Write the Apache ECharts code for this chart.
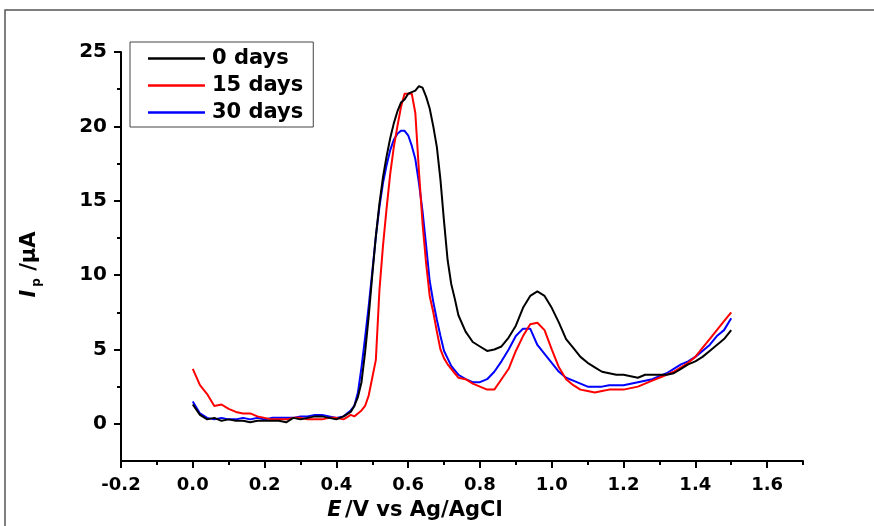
<!DOCTYPE html>
<html>
<head>
<meta charset="utf-8">
<script src="https://cdn.jsdelivr.net/npm/echarts@6/dist/echarts.min.js"></script>
<style>html,body{margin:0;padding:0;background:#fff;}#c{width:874px;height:526px;}</style>
</head>
<body>
<div id="c"></div>
<script>
// Potential (V vs Ag/AgCl)
const potentials = [
  0.00,0.02,0.04,0.06,0.08,0.10,0.12,0.14,0.16,0.18,0.20,0.22,0.24,0.26,0.28,0.30,0.32,0.34,0.36,0.38,0.40,0.42,0.44,
  0.45,0.46,0.47,0.48,0.49,0.50,0.51,0.52,0.53,0.54,0.55,0.56,0.57,0.58,0.59,0.60,0.61,0.62,0.63,0.64,0.65,0.66,0.67,0.68,0.69,0.70,0.71,0.72,0.73,0.74,
  0.76,0.78,0.80,0.82,0.84,0.86,0.88,0.90,0.92,0.94,0.96,0.98,1.00,1.02,1.04,1.06,1.08,1.10,1.12,1.14,1.16,1.18,1.20,1.22,1.24,1.26,1.28,1.30,1.32,1.34,1.36,1.38,1.40,1.42,1.44,1.46,1.48,1.50
];
// Current (µA)
const days0 = [
  1.3,0.6,0.3,0.4,0.2,0.3,0.2,0.2,0.1,0.2,0.2,0.2,0.2,0.1,0.4,0.3,0.4,0.5,0.5,0.4,0.3,0.5,0.8,
  1.2,1.8,2.8,4.8,7.2,10.0,12.6,14.8,16.6,18.0,19.2,20.2,21.0,21.6,21.8,22.2,22.3,22.4,22.7,22.6,22.0,21.2,20.0,18.6,16.4,13.6,11.0,9.4,8.4,7.3,
  6.2,5.5,5.2,4.9,5.0,5.2,5.8,6.6,7.8,8.6,8.9,8.6,7.8,6.8,5.7,5.1,4.5,4.1,3.8,3.5,3.4,3.3,3.3,3.2,3.1,3.3,3.3,3.3,3.3,3.4,3.7,4.0,4.2,4.5,4.9,5.3,5.7,6.3
];
const days15 = [
  3.7,2.6,2.0,1.2,1.3,1.0,0.8,0.7,0.7,0.5,0.4,0.3,0.3,0.3,0.4,0.4,0.3,0.3,0.3,0.4,0.4,0.3,0.6,
  0.5,0.7,0.9,1.2,1.9,3.1,4.3,9.0,12.0,14.5,16.8,18.6,20.0,21.3,22.2,22.2,22.2,20.9,17.0,13.5,10.8,8.6,7.5,6.2,5.0,4.4,4.0,3.7,3.4,3.1,
  3.0,2.7,2.5,2.3,2.3,3.0,3.7,4.9,5.9,6.7,6.8,6.3,5.0,3.8,3.0,2.6,2.3,2.2,2.1,2.2,2.3,2.3,2.3,2.4,2.5,2.7,2.9,3.1,3.3,3.5,3.8,4.1,4.5,5.1,5.7,6.3,6.9,7.5
];
const days30 = [
  1.5,0.7,0.4,0.3,0.4,0.3,0.3,0.4,0.3,0.4,0.3,0.4,0.4,0.4,0.4,0.5,0.5,0.6,0.6,0.5,0.4,0.5,0.9,
  1.2,2.1,3.8,5.8,7.9,10.2,12.6,14.6,16.2,17.4,18.4,19.1,19.5,19.7,19.7,19.4,18.7,17.8,16.2,14.3,12.0,9.6,8.2,7.0,5.9,4.9,4.4,3.9,3.6,3.3,
  3.0,2.8,2.8,3.0,3.5,4.2,5.0,5.9,6.4,6.4,5.3,4.7,4.1,3.5,3.1,2.9,2.7,2.5,2.5,2.5,2.6,2.6,2.6,2.7,2.8,2.9,3.0,3.2,3.4,3.7,4.0,4.2,4.5,4.9,5.3,5.9,6.3,7.1
];
const seriesNames = ['0 days','15 days','30 days'];
const seriesColors = ['#000000','#ff0000','#0000ff'];
const xMajorTicks = [-0.2,0.0,0.2,0.4,0.6,0.8,1.0,1.2,1.4,1.6];
const xMinorTicks = [-0.1,0.1,0.3,0.5,0.7,0.9,1.1,1.3,1.5,1.7];
const yMajorTicks = [0,5,10,15,20,25];
const yMinorTicks = [2.5,7.5,12.5,17.5,22.5];

const FONT = 'DejaVu Sans';
const pair = arr => potentials.map((e,i)=>[e,arr[i]]);
const allData = [days0, days15, days30];

const chart = echarts.init(document.getElementById('c'), null, {renderer:'canvas'});
const axisLine = {show:true, onZero:false, lineStyle:{color:'#000', width:2}};

chart.setOption({
  animation:false,
  backgroundColor:'#fff',
  graphic:[{type:'rect', shape:{x:5, y:10, width:900, height:600}, style:{fill:'none', stroke:'#555', lineWidth:1.5}, silent:true}],
  grid:{left:121, right:71, top:52, bottom:56, containLabel:false},
  legend:{
    show:true, orient:'vertical', left:130, top:42,
    data:seriesNames.map(n=>({name:n, icon:'rect'})),
    itemWidth:57, itemHeight:2.5, itemGap:6,
    padding:[6,10,4,18],
    borderColor:'#444', borderWidth:1,
    textStyle:{color:'#000', fontFamily:FONT, fontWeight:'bold', fontSize:21, padding:[0,0,0,2]}
  },
  xAxis:[{
    type:'value', min:-0.2, max:1.7, interval:0.2,
    axisLine:axisLine,
    axisTick:{show:true, inside:false, length:7, lineStyle:{color:'#000', width:2}, customValues:xMajorTicks},
    axisLabel:{color:'#000', fontFamily:FONT, fontWeight:'bold', fontSize:18, margin:15, customValues:xMajorTicks, formatter:v=>v.toFixed(1)},
    splitLine:{show:false},
    name:'{i|E} {n|/V vs Ag/AgCl}', nameLocation:'middle', nameGap:39,
    nameTextStyle:{padding:[0,94,0,0], rich:{
      i:{fontFamily:FONT, fontWeight:'bold', fontStyle:'italic', fontSize:21, color:'#000'},
      n:{fontFamily:FONT, fontWeight:'bold', fontSize:21, color:'#000'}
    }}
  },{
    type:'value', min:-0.2, max:1.7, interval:0.2, position:'bottom',
    axisLine:{show:false, onZero:false},
    axisTick:{show:true, length:4, lineStyle:{color:'#000', width:2}, customValues:xMinorTicks},
    axisLabel:{show:false}, splitLine:{show:false}
  }],
  yAxis:[{
    type:'value', min:-2.5, max:25, interval:2.5,
    axisLine:axisLine,
    axisTick:{show:true, inside:false, length:7, lineStyle:{color:'#000', width:2}, customValues:yMajorTicks},
    axisLabel:{color:'#000', fontFamily:FONT, fontWeight:'bold', fontSize:20, margin:14, customValues:yMajorTicks},
    splitLine:{show:false},
    name:'{i|I}{s|p}{n| /μA}', nameLocation:'middle', nameGap:78, nameRotate:90,
    nameTextStyle:{padding:[0,16,0,0], rich:{
      i:{fontFamily:FONT, fontWeight:'bold', fontStyle:'italic', fontSize:21, color:'#000'},
      s:{fontFamily:FONT, fontWeight:'bold', fontSize:12, color:'#000', padding:[14,0,0,3]},
      n:{fontFamily:FONT, fontWeight:'bold', fontSize:21, color:'#000'}
    }}
  },{
    type:'value', min:-2.5, max:25, interval:2.5, position:'left',
    axisLine:{show:false, onZero:false},
    axisTick:{show:true, length:4, lineStyle:{color:'#000', width:2}, customValues:yMinorTicks},
    axisLabel:{show:false}, splitLine:{show:false}
  }],
  series: allData.map((d,k)=>({
    name:seriesNames[k], type:'line', data:pair(d),
    xAxisIndex:0, yAxisIndex:0,
    showSymbol:false, symbol:'none', smooth:false,
    lineStyle:{color:seriesColors[k], width:2},
    itemStyle:{color:seriesColors[k]},
    z: 3-k
  }))
});
</script>
</body>
</html>
